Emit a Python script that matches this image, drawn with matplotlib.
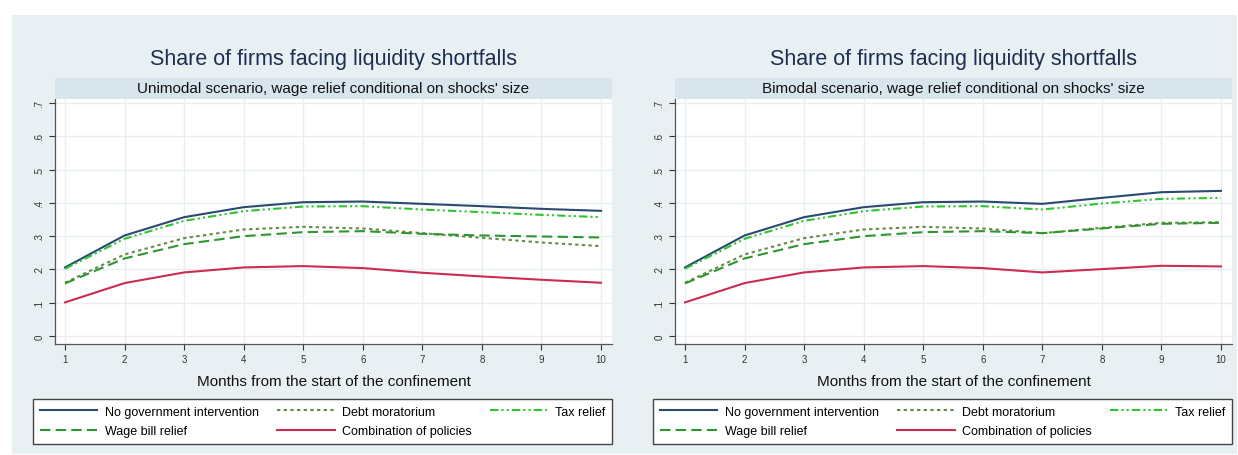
import matplotlib.pyplot as plt
from matplotlib.patches import Rectangle

plt.rcParams["font.family"] = ["Liberation Sans", "DejaVu Sans"]

months = [1, 2, 3, 4, 5, 6, 7, 8, 9, 10]

# Unimodal scenario
uni_no_gov = [0.206, 0.302, 0.357, 0.387, 0.402, 0.404, 0.397, 0.390, 0.382, 0.376]
uni_debt = [0.160, 0.245, 0.294, 0.320, 0.328, 0.323, 0.309, 0.295, 0.281, 0.270]
uni_tax = [0.202, 0.292, 0.346, 0.375, 0.389, 0.390, 0.380, 0.372, 0.364, 0.357]
uni_wage = [0.158, 0.233, 0.276, 0.300, 0.312, 0.315, 0.307, 0.302, 0.299, 0.296]
uni_combo = [0.101, 0.159, 0.191, 0.206, 0.210, 0.204, 0.190, 0.179, 0.169, 0.160]

# Bimodal scenario
bi_no_gov = [0.206, 0.302, 0.357, 0.387, 0.402, 0.404, 0.397, 0.415, 0.432, 0.436]
bi_debt = [0.160, 0.245, 0.294, 0.320, 0.328, 0.323, 0.309, 0.325, 0.340, 0.342]
bi_tax = [0.202, 0.292, 0.346, 0.375, 0.389, 0.390, 0.380, 0.398, 0.412, 0.415]
bi_wage = [0.158, 0.233, 0.276, 0.300, 0.312, 0.315, 0.309, 0.323, 0.337, 0.340]
bi_combo = [0.101, 0.159, 0.191, 0.206, 0.210, 0.204, 0.191, 0.201, 0.211, 0.209]

yticks = [0, 0.1, 0.2, 0.3, 0.4, 0.5, 0.6, 0.7]
ytick_labels = ["0", ".1", ".2", ".3", ".4", ".5", ".6", ".7"]

title = "Share of firms facing liquidity shortfalls"
subtitles = ["Unimodal scenario, wage relief conditional on shocks' size",
             "Bimodal scenario, wage relief conditional on shocks' size"]
xlabel = "Months from the start of the confinement"
legend_labels = ["No government intervention", "Debt moratorium", "Tax relief",
                 "Wage bill relief", "Combination of policies"]

W, H = 1238, 456
bg = "#e8f0f3"
strip_bg = "#d9e5ec"
grid_c = "#e7eff2"

fig = plt.figure(figsize=(W / 100, H / 100), dpi=100, facecolor="white")
fig.patches.append(Rectangle((12 / W, 1 / H), 1225 / W, 439 / H, transform=fig.transFigure,
                             facecolor=bg, edgecolor="none", zorder=-10))

styles = [
    dict(color="#2a4a70", ls="-"),
    dict(color="#6a8a48", ls=(0, (1.6, 1.6))),
    dict(color="#2ec42e", ls=(0, (4, 1.5, 1, 1.5, 1, 1.5))),
    dict(color="#2e962e", ls=(0, (5, 2.5))),
    dict(color="#cc2b52", ls="-"),
]

panels = [
    (55, [uni_no_gov, uni_debt, uni_tax, uni_wage, uni_combo]),
    (675, [bi_no_gov, bi_debt, bi_tax, bi_wage, bi_combo]),
]

for i, (x0, series) in enumerate(panels):
    width = 557
    ax = fig.add_axes([x0 / W, (H - 345) / H, width / W, 245 / H])
    ax.set_facecolor("white")
    handles = []
    for s, st in zip(series, styles):
        h, = ax.plot(months, s, color=st["color"], linestyle=st["ls"], linewidth=1.5)
        handles.append(h)
    ax.set_xlim(0.832, 10.185)
    ax.set_ylim(-0.024, 0.712)
    ax.set_xticks(months)
    ax.set_yticks(yticks)
    ax.set_yticklabels(ytick_labels, rotation=90, va="center")
    ax.tick_params(axis="both", labelsize=7, colors="#333333", length=4, width=0.8)
    ax.grid(True, color=grid_c, linewidth=1)
    ax.set_axisbelow(True)
    for sp in ["top", "right"]:
        ax.spines[sp].set_visible(False)
    for sp in ["left", "bottom"]:
        ax.spines[sp].set_color("#555555")
        ax.spines[sp].set_linewidth(0.9)
    ax.set_xlabel(xlabel, fontsize=11, color="#111111", labelpad=7)

    # subtitle strip
    sax = fig.add_axes([x0 / W, (H - 100) / H, width / W, 21 / H])
    sax.set_facecolor(strip_bg)
    sax.set_xticks([])
    sax.set_yticks([])
    for sp in sax.spines.values():
        sp.set_visible(False)
    sax.text(0.5, 0.5, subtitles[i], ha="center", va="center", fontsize=11,
             color="#111111", transform=sax.transAxes)

    fig.text((x0 + width / 2) / W, (H - 59) / H, title, ha="center", va="center",
             fontsize=15.5, color="#1e2d50")

    order = [0, 3, 1, 4, 2]
    lx0 = x0 - 22
    leg = fig.legend([handles[k] for k in order], [legend_labels[k] for k in order],
                     ncol=3, mode="expand",
                     bbox_to_anchor=(lx0 / W, (H - 445) / H, 579 / W, 50 / H),
                     loc="lower left", fontsize=9, frameon=True, fancybox=False,
                     edgecolor="#444444", handlelength=4.6, borderaxespad=0,
                     labelspacing=0.6, borderpad=0.55, handletextpad=0.6,
                     columnspacing=1.0)
    leg.get_frame().set_linewidth(1)
    leg.get_frame().set_facecolor("white")
    leg.get_frame().set_alpha(1)

fig.savefig("out.png", dpi=100, facecolor="white")
